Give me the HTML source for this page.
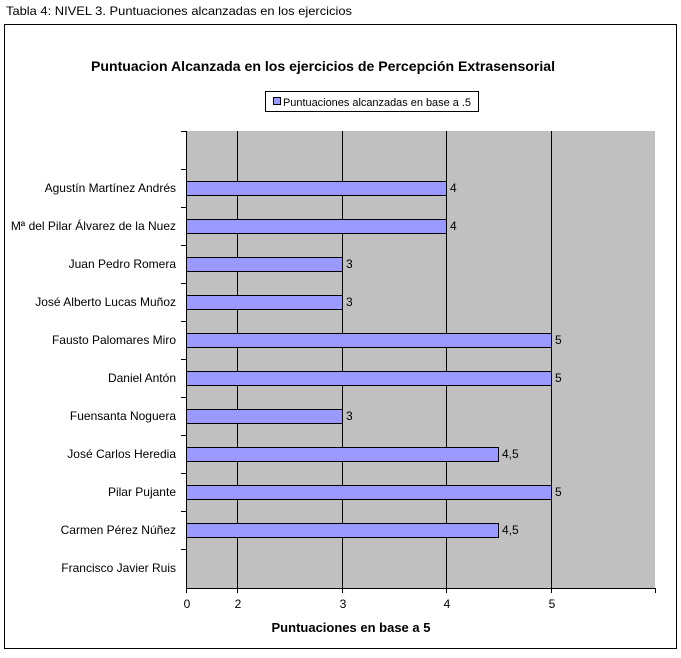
<!DOCTYPE html>
<html><head><meta charset="utf-8"><style>
body{margin:0;background:#fff;width:681px;height:653px;overflow:hidden;font-family:"Liberation Sans",sans-serif;}
</style></head><body>
<svg width="681" height="653" xmlns="http://www.w3.org/2000/svg" font-family="Liberation Sans, sans-serif">
<text x="6" y="15" font-size="12" fill="#000" textLength="346" lengthAdjust="spacingAndGlyphs">Tabla 4: NIVEL 3. Puntuaciones alcanzadas en los ejercicios</text>
<rect x="4.5" y="24.5" width="672" height="624" fill="#fff" stroke="#000"/>
<text x="323" y="71" font-size="14" font-weight="bold" text-anchor="middle" textLength="464" lengthAdjust="spacingAndGlyphs">Puntuacion Alcanzada en los ejercicios de Percepción Extrasensorial</text>
<rect x="265.5" y="91.5" width="213" height="20" fill="#fff" stroke="#000"/>
<rect x="273.5" y="97.5" width="7" height="7" fill="#9999ff" stroke="#000"/>
<text x="283" y="106" font-size="11" textLength="188" lengthAdjust="spacingAndGlyphs">Puntuaciones alcanzadas en base a .5</text>
<rect x="186" y="131" width="469" height="457" fill="#c0c0c0"/>
<g stroke="#000" stroke-width="1">
<line x1="237.5" y1="131" x2="237.5" y2="588"/>
<line x1="342.5" y1="131" x2="342.5" y2="588"/>
<line x1="446.5" y1="131" x2="446.5" y2="588"/>
<line x1="551.5" y1="131" x2="551.5" y2="588"/>
<line x1="186.5" y1="131" x2="186.5" y2="588"/>
<line x1="186" y1="588.5" x2="656" y2="588.5"/>
<line x1="655.5" y1="588" x2="655.5" y2="593"/>
<line x1="186.5" y1="588" x2="186.5" y2="593"/>
<line x1="237.5" y1="588" x2="237.5" y2="593"/>
<line x1="342.5" y1="588" x2="342.5" y2="593"/>
<line x1="446.5" y1="588" x2="446.5" y2="593"/>
<line x1="551.5" y1="588" x2="551.5" y2="593"/>
<line x1="181" y1="131.5" x2="186" y2="131.5"/>
<line x1="181" y1="169.5" x2="186" y2="169.5"/>
<line x1="181" y1="207.5" x2="186" y2="207.5"/>
<line x1="181" y1="245.5" x2="186" y2="245.5"/>
<line x1="181" y1="283.5" x2="186" y2="283.5"/>
<line x1="181" y1="321.5" x2="186" y2="321.5"/>
<line x1="181" y1="359.5" x2="186" y2="359.5"/>
<line x1="181" y1="397.5" x2="186" y2="397.5"/>
<line x1="181" y1="435.5" x2="186" y2="435.5"/>
<line x1="181" y1="473.5" x2="186" y2="473.5"/>
<line x1="181" y1="511.5" x2="186" y2="511.5"/>
<line x1="181" y1="549.5" x2="186" y2="549.5"/>
</g>
<g fill="#9999ff" stroke="#000">
<rect x="186.5" y="181.5" width="260" height="14"/>
<rect x="186.5" y="219.5" width="260" height="14"/>
<rect x="186.5" y="257.5" width="156" height="14"/>
<rect x="186.5" y="295.5" width="156" height="14"/>
<rect x="186.5" y="333.5" width="365" height="14"/>
<rect x="186.5" y="371.5" width="365" height="14"/>
<rect x="186.5" y="409.5" width="156" height="14"/>
<rect x="186.5" y="447.5" width="312" height="14"/>
<rect x="186.5" y="485.5" width="365" height="14"/>
<rect x="186.5" y="523.5" width="312" height="14"/>
</g>
<g font-size="12">
<text x="450" y="192">4</text><text x="450" y="230">4</text>
<text x="346" y="268">3</text><text x="346" y="306">3</text>
<text x="555" y="344">5</text><text x="555" y="382">5</text>
<text x="346" y="420">3</text><text x="502" y="458">4,5</text>
<text x="555" y="496">5</text><text x="502" y="534">4,5</text>
</g>
<g font-size="12" text-anchor="end">
<text x="176" y="192">Agustín Martínez Andrés</text>
<text x="176" y="230">Mª del Pilar Álvarez de la Nuez</text>
<text x="176" y="268">Juan Pedro Romera</text>
<text x="176" y="306">José Alberto Lucas Muñoz</text>
<text x="176" y="344">Fausto Palomares Miro</text>
<text x="176" y="382">Daniel Antón</text>
<text x="176" y="420">Fuensanta Noguera</text>
<text x="176" y="458">José Carlos Heredia</text>
<text x="176" y="496">Pilar Pujante</text>
<text x="176" y="534">Carmen Pérez Núñez</text>
<text x="176" y="572">Francisco Javier Ruis</text>
</g>
<g font-size="12" text-anchor="middle">
<text x="187" y="608">0</text><text x="238" y="608">2</text><text x="343" y="608">3</text><text x="447" y="608">4</text><text x="552" y="608">5</text>
</g>
<text x="351" y="632" font-size="13" font-weight="bold" text-anchor="middle">Puntuaciones en base a 5</text>
</svg>
</body></html>
